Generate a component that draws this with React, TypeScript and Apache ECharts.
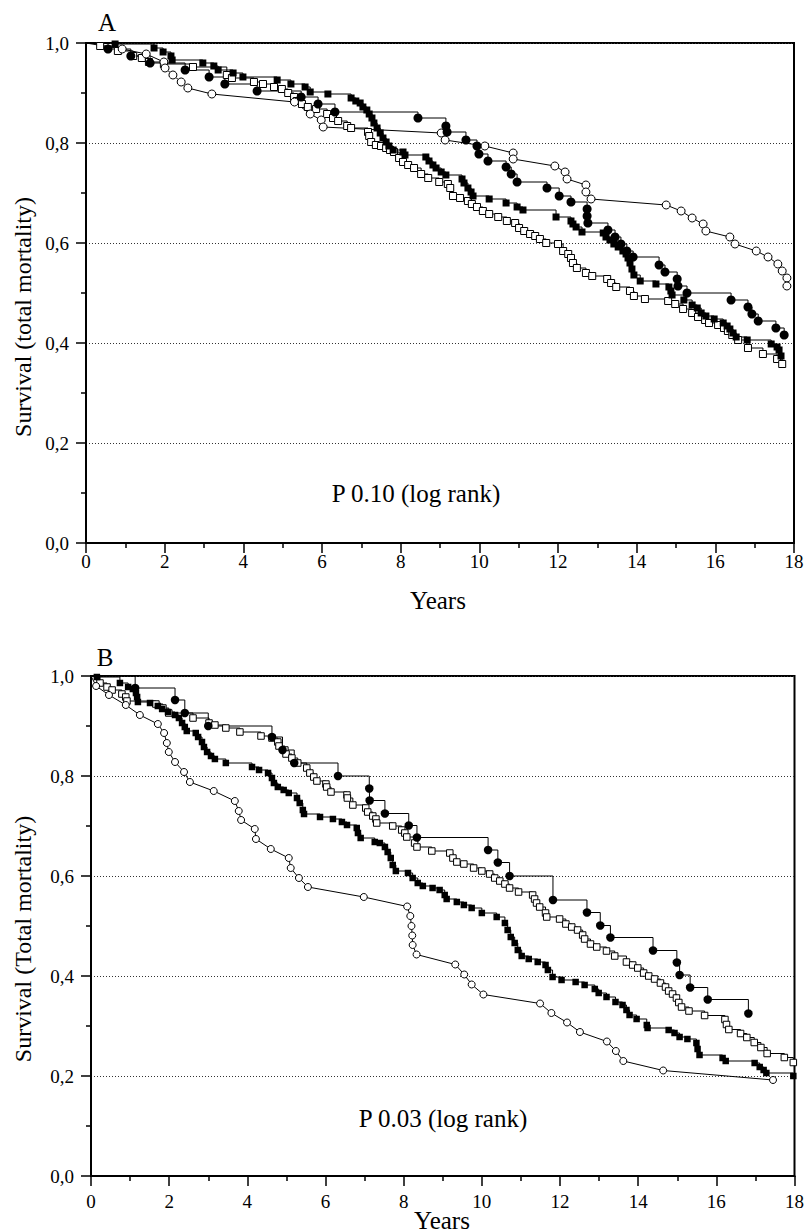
import React, { useEffect, useRef } from "react";
import * as echarts from "echarts";

// ---------- Panel A data: [years, survival] ----------
const A_filledSquare: number[][] = [
  [0, 1], [0.74, 0.998], [1.73, 0.99], [1.96, 0.982], [2.16, 0.974], [2.19, 0.966], [2.97, 0.96], [3.25, 0.954],
  [3.36, 0.946], [3.74, 0.94], [3.99, 0.932], [4.86, 0.926], [5.21, 0.918], [5.57, 0.912], [5.7, 0.902], [6.15, 0.898],
  [6.74, 0.89], [6.86, 0.884], [6.97, 0.88], [7.04, 0.872], [7.14, 0.866], [7.2, 0.858], [7.27, 0.85], [7.32, 0.84],
  [7.4, 0.83], [7.48, 0.82], [7.55, 0.81], [7.63, 0.802], [7.7, 0.794], [7.81, 0.786], [8.06, 0.782], [8.11, 0.776],
  [8.64, 0.772], [8.72, 0.764], [8.82, 0.756], [8.9, 0.75], [9.03, 0.742], [9.15, 0.736], [9.56, 0.728], [9.61, 0.72],
  [9.71, 0.71], [9.79, 0.702], [9.84, 0.694], [10.25, 0.688], [10.68, 0.68], [10.96, 0.672], [11.11, 0.666], [11.95, 0.652],
  [12.33, 0.644], [12.38, 0.638], [12.46, 0.632], [12.61, 0.622], [13.15, 0.62], [13.22, 0.612], [13.32, 0.606], [13.42, 0.598],
  [13.53, 0.592], [13.65, 0.584], [13.73, 0.578], [13.78, 0.57], [13.83, 0.56], [13.88, 0.548], [13.93, 0.536], [14.09, 0.524],
  [14.49, 0.518], [14.82, 0.512], [14.87, 0.504], [14.9, 0.496], [15.2, 0.486], [15.41, 0.476], [15.54, 0.47], [15.64, 0.46],
  [15.76, 0.454], [15.97, 0.448], [16.2, 0.44], [16.3, 0.434], [16.37, 0.428], [16.45, 0.42], [16.53, 0.412], [16.81, 0.406],
  [17.42, 0.398], [17.57, 0.392], [17.62, 0.386], [17.67, 0.374],
];
const A_openSquare: number[][] = [
  [0, 1], [0.36, 0.994], [0.81, 0.984], [1.2, 0.974], [1.42, 0.97], [1.6, 0.962], [1.98, 0.958], [2.72, 0.952],
  [3.58, 0.936], [3.71, 0.93], [4.27, 0.922], [4.5, 0.918], [4.78, 0.912], [4.98, 0.908], [5.14, 0.9], [5.29, 0.892],
  [5.36, 0.884], [5.49, 0.878], [5.64, 0.872], [5.85, 0.868], [6.13, 0.858], [6.28, 0.85], [6.41, 0.844], [6.64, 0.834],
  [6.74, 0.83], [7.17, 0.822], [7.2, 0.814], [7.25, 0.802], [7.37, 0.796], [7.5, 0.794], [7.63, 0.79], [7.73, 0.786],
  [7.83, 0.782], [7.96, 0.77], [8.06, 0.762], [8.19, 0.756], [8.34, 0.75], [8.52, 0.738], [8.7, 0.73], [8.98, 0.722],
  [9.2, 0.718], [9.26, 0.71], [9.33, 0.694], [9.51, 0.69], [9.71, 0.684], [9.81, 0.678], [9.94, 0.672], [10.09, 0.664],
  [10.25, 0.658], [10.48, 0.652], [10.7, 0.644], [10.91, 0.64], [11.01, 0.63], [11.14, 0.624], [11.29, 0.618], [11.42, 0.614],
  [11.54, 0.608], [11.7, 0.6], [12.0, 0.598], [12.13, 0.584], [12.26, 0.578], [12.33, 0.57], [12.38, 0.56], [12.48, 0.55],
  [12.71, 0.54], [12.87, 0.534], [13.25, 0.528], [13.35, 0.52], [13.48, 0.512], [13.83, 0.504], [13.93, 0.494], [14.21, 0.488],
  [14.8, 0.484], [14.98, 0.478], [15.18, 0.468], [15.41, 0.46], [15.56, 0.452], [15.74, 0.446], [15.84, 0.44], [16.07, 0.436],
  [16.22, 0.43], [16.32, 0.424], [16.43, 0.416], [16.58, 0.406], [16.83, 0.39], [17.21, 0.378], [17.57, 0.368], [17.7, 0.358],
];
const A_filledCircle: number[][] = [
  [0, 1], [0.56, 0.988], [1.14, 0.974], [1.63, 0.96], [2.52, 0.946], [3.13, 0.932], [3.53, 0.918], [4.35, 0.904],
  [5.47, 0.892], [5.9, 0.878], [6.33, 0.862], [8.44, 0.85], [9.15, 0.834], [9.18, 0.822], [9.66, 0.806], [9.94, 0.794],
  [9.99, 0.778], [10.22, 0.764], [10.68, 0.752], [10.81, 0.738], [10.96, 0.722], [11.72, 0.71], [12.03, 0.694], [12.33, 0.682],
  [12.74, 0.668], [12.74, 0.654], [12.76, 0.64], [13.27, 0.626], [13.45, 0.612], [13.6, 0.598], [13.75, 0.584], [13.91, 0.572],
  [14.57, 0.556], [14.72, 0.542], [15.03, 0.528], [15.05, 0.514], [15.28, 0.5], [16.4, 0.486], [16.83, 0.472], [16.93, 0.458],
  [17.09, 0.444], [17.54, 0.43], [17.75, 0.416],
];
const A_openCircle: number[][] = [
  [0, 1], [0.92, 0.988], [1.53, 0.978], [1.98, 0.962], [2.01, 0.95], [2.21, 0.936], [2.42, 0.922], [2.59, 0.91],
  [3.2, 0.898], [5.3, 0.882], [5.7, 0.858], [5.98, 0.846], [6.03, 0.832], [9.03, 0.82], [9.13, 0.806], [10.14, 0.794],
  [10.86, 0.78], [10.86, 0.768], [11.92, 0.754], [12.18, 0.742], [12.23, 0.728], [12.71, 0.716], [12.71, 0.702], [12.84, 0.688],
  [14.75, 0.676], [15.13, 0.664], [15.41, 0.65], [15.69, 0.638], [15.76, 0.624], [16.37, 0.612], [16.5, 0.598], [17.04, 0.584],
  [17.34, 0.572], [17.59, 0.558], [17.7, 0.544], [17.82, 0.53], [17.82, 0.514],
];

// ---------- Panel B data: [years, survival] ----------
const B_filledSquare: number[][] = [
  [0, 1], [0.15, 0.998], [0.74, 0.986], [0.95, 0.978], [1.07, 0.974], [1.15, 0.966], [1.18, 0.958], [1.2, 0.948],
  [1.51, 0.946], [1.71, 0.94], [1.82, 0.934], [1.97, 0.928], [2.15, 0.922], [2.25, 0.916], [2.33, 0.906], [2.4, 0.898],
  [2.45, 0.89], [2.68, 0.886], [2.74, 0.878], [2.84, 0.868], [2.89, 0.858], [2.97, 0.848], [3.07, 0.84], [3.17, 0.834],
  [3.45, 0.826], [4.12, 0.818], [4.3, 0.812], [4.53, 0.806], [4.63, 0.796], [4.68, 0.786], [4.78, 0.778], [4.93, 0.772],
  [5.06, 0.766], [5.27, 0.756], [5.34, 0.746], [5.42, 0.732], [5.45, 0.724], [5.86, 0.718], [6.19, 0.714], [6.42, 0.708],
  [6.55, 0.702], [6.8, 0.696], [6.83, 0.686], [6.9, 0.676], [7.26, 0.668], [7.39, 0.666], [7.52, 0.658], [7.59, 0.648],
  [7.67, 0.636], [7.72, 0.622], [7.8, 0.61], [8.11, 0.606], [8.23, 0.596], [8.36, 0.586], [8.49, 0.58], [8.74, 0.576],
  [8.92, 0.572], [9.05, 0.562], [9.1, 0.554], [9.36, 0.548], [9.54, 0.542], [9.74, 0.536], [10.0, 0.526], [10.38, 0.518],
  [10.59, 0.506], [10.66, 0.492], [10.74, 0.478], [10.84, 0.466], [10.92, 0.452], [11.02, 0.44], [11.2, 0.434], [11.43, 0.428],
  [11.63, 0.422], [11.69, 0.412], [11.81, 0.398], [12.04, 0.392], [12.4, 0.388], [12.63, 0.382], [12.89, 0.374], [12.99, 0.366],
  [13.19, 0.358], [13.42, 0.348], [13.6, 0.342], [13.7, 0.332], [13.78, 0.322], [13.96, 0.314], [14.22, 0.302], [14.24, 0.296],
  [14.78, 0.292], [14.93, 0.286], [15.06, 0.278], [15.26, 0.274], [15.49, 0.266], [15.52, 0.254], [15.57, 0.242], [16.16, 0.236],
  [16.24, 0.23], [16.98, 0.226], [17.11, 0.218], [17.21, 0.212], [17.28, 0.206], [17.97, 0.2],
];
const B_openSquare: number[][] = [
  [0, 1], [0.23, 0.986], [0.41, 0.978], [0.54, 0.972], [0.79, 0.964], [0.89, 0.958], [0.92, 0.95], [1.66, 0.944],
  [1.84, 0.936], [1.99, 0.926], [2.61, 0.916], [3.02, 0.906], [3.17, 0.902], [3.45, 0.896], [3.81, 0.888], [4.35, 0.88],
  [4.63, 0.876], [4.78, 0.868], [4.81, 0.86], [4.96, 0.852], [4.99, 0.844], [5.14, 0.836], [5.29, 0.826], [5.52, 0.816],
  [5.6, 0.806], [5.7, 0.798], [5.78, 0.79], [6.01, 0.784], [6.03, 0.778], [6.14, 0.768], [6.55, 0.762], [6.56, 0.756],
  [6.7, 0.742], [7.03, 0.736], [7.08, 0.728], [7.21, 0.72], [7.29, 0.714], [7.31, 0.706], [7.72, 0.7], [7.95, 0.692],
  [8.03, 0.686], [8.08, 0.678], [8.28, 0.666], [8.34, 0.658], [8.72, 0.65], [9.18, 0.646], [9.26, 0.636], [9.36, 0.628],
  [9.54, 0.624], [9.79, 0.616], [10.0, 0.61], [10.2, 0.604], [10.33, 0.596], [10.46, 0.59], [10.59, 0.584], [10.71, 0.576],
  [10.94, 0.568], [11.3, 0.562], [11.35, 0.554], [11.4, 0.546], [11.48, 0.538], [11.63, 0.526], [11.66, 0.518], [11.99, 0.514],
  [12.15, 0.504], [12.3, 0.498], [12.45, 0.492], [12.58, 0.482], [12.63, 0.474], [12.78, 0.464], [12.94, 0.458], [13.19, 0.45],
  [13.4, 0.44], [13.7, 0.428], [13.86, 0.422], [13.99, 0.416], [14.14, 0.406], [14.27, 0.4], [14.42, 0.394], [14.57, 0.386],
  [14.7, 0.378], [14.78, 0.37], [14.88, 0.364], [14.98, 0.356], [15.04, 0.347], [15.11, 0.338], [15.3, 0.33], [15.7, 0.321],
  [16.22, 0.313], [16.26, 0.303], [16.32, 0.293], [16.62, 0.285], [16.78, 0.277], [16.97, 0.267], [17.14, 0.257], [17.3, 0.245],
  [17.74, 0.237], [17.97, 0.227],
];
const B_filledCircle: number[][] = [
  [0, 1], [1.13, 0.976], [2.15, 0.952], [2.4, 0.926], [3.0, 0.9], [4.63, 0.878], [4.9, 0.852], [5.2, 0.826],
  [6.32, 0.8], [7.12, 0.775], [7.13, 0.751], [7.52, 0.725], [8.13, 0.701], [8.34, 0.677], [10.16, 0.652], [10.41, 0.627],
  [10.71, 0.6], [11.82, 0.552], [12.69, 0.527], [13.03, 0.501], [13.29, 0.477], [14.38, 0.451], [14.99, 0.427], [15.06, 0.402],
  [15.33, 0.377], [15.78, 0.353], [16.82, 0.325],
];
const B_openCircle: number[][] = [
  [0, 1], [0.13, 0.98], [0.46, 0.962], [0.89, 0.942], [1.25, 0.922], [1.71, 0.904], [1.87, 0.886], [1.94, 0.866],
  [1.99, 0.848], [2.15, 0.828], [2.38, 0.808], [2.53, 0.788], [3.14, 0.77], [3.68, 0.75], [3.78, 0.73], [3.84, 0.712],
  [4.19, 0.694], [4.22, 0.674], [4.6, 0.654], [5.06, 0.636], [5.11, 0.616], [5.32, 0.596], [5.55, 0.578], [6.98, 0.558],
  [8.09, 0.539], [8.17, 0.52], [8.2, 0.5], [8.22, 0.481], [8.23, 0.462], [8.33, 0.443], [9.32, 0.423], [9.55, 0.403],
  [9.74, 0.383], [10.04, 0.363], [11.49, 0.345], [11.78, 0.326], [12.18, 0.307], [12.51, 0.288], [13.2, 0.269], [13.43, 0.25],
  [13.62, 0.23], [14.64, 0.211], [17.45, 0.192],
];

const X_TICKS_MAX = 18;
const Y_AXIS_TITLE_A = "Survival (total mortality)";
const Y_AXIS_TITLE_B = "Survival (Total mortality)";
const X_AXIS_TITLE = "Years";
const P_TEXT_A = "P 0.10 (log rank)";
const P_TEXT_B = "P 0.03 (log rank)";

const FONT = "Liberation Serif";

type Kind = "filledSquare" | "openSquare" | "filledCircle" | "openCircle";

function makeSeries(data: number[][], kind: Kind, idx: number, big: boolean) {
  const isCircle = kind === "filledCircle" || kind === "openCircle";
  const filled = kind === "filledSquare" || kind === "filledCircle";
  const size = isCircle ? (big ? (filled ? 9 : 8) : filled ? 8.5 : 7) : big ? 7 : 6.5;
  return {
    type: "line",
    xAxisIndex: idx,
    yAxisIndex: idx,
    step: kind === "openCircle" ? false : "end",
    showAllSymbol: true,
    symbol: isCircle ? "circle" : "rect",
    symbolSize: size,
    itemStyle: {
      color: filled ? "#000" : "#fff",
      borderColor: "#000",
      borderWidth: filled ? 0 : 1,
    },
    lineStyle: { color: "#000", width: 1 },
    emphasis: { disabled: true },
    data: data.map((p, i) => (i === 0 ? { value: p, symbol: "none" } : { value: p })),
    z: 3,
  };
}

function xAxis(idx: number, margin: number) {
  return {
    gridIndex: idx,
    type: "value",
    min: 0,
    max: X_TICKS_MAX,
    interval: 2,
    axisLine: { show: true, onZero: false, lineStyle: { color: "#000", width: 2 } },
    axisTick: { show: true, length: 10, lineStyle: { color: "#000", width: 1.5 } },
    minorTick: { show: true, splitNumber: 2, length: 5, lineStyle: { color: "#000", width: 1.5 } },
    axisLabel: { show: true, color: "#000", fontFamily: FONT, fontSize: 19, margin },
    splitLine: { show: false },
  };
}

function yAxis(idx: number) {
  return {
    gridIndex: idx,
    type: "value",
    min: 0,
    max: 1,
    interval: 0.2,
    axisLine: { show: true, onZero: false, lineStyle: { color: "#000", width: 2 } },
    axisTick: { show: true, length: 10, lineStyle: { color: "#000", width: 1.5 } },
    minorTick: { show: true, splitNumber: 2, length: 5, lineStyle: { color: "#000", width: 1.5 } },
    axisLabel: {
      show: true,
      color: "#000",
      fontFamily: FONT,
      fontSize: 19,
      margin: 17,
      formatter: (v: number) => v.toFixed(1).replace(".", ","),
    },
    splitLine: { show: true, lineStyle: { color: "#333", width: 1, type: [1, 2] } },
  };
}

function txt(text: string, x: number, y: number, size: number, rot = 0) {
  return {
    type: "text",
    x,
    y,
    rotation: rot,
    silent: true,
    style: {
      text,
      fill: "#000",
      fontFamily: FONT,
      fontSize: size,
      align: "center",
      verticalAlign: "middle",
    },
  };
}

export default function App() {
  const ref = useRef<HTMLDivElement>(null);
  useEffect(() => {
    if (!ref.current) return;
    const chart = echarts.init(ref.current, undefined, { renderer: "svg" });
    const option: any = {
      animation: false,
      backgroundColor: "#fff",
      textStyle: { fontFamily: FONT, fontSize: 19, color: "#000" },
      grid: [
        { left: 86, top: 43, width: 708, height: 500, show: true, borderColor: "#000", borderWidth: 2 },
        { left: 91, top: 676, width: 705, height: 500, show: true, borderColor: "#000", borderWidth: 2 },
      ],
      xAxis: [xAxis(0, 9), xAxis(1, 16)],
      yAxis: [yAxis(0), yAxis(1)],
      series: [
        makeSeries(A_openSquare, "openSquare", 0, true),
        makeSeries(A_filledSquare, "filledSquare", 0, true),
        makeSeries(A_openCircle, "openCircle", 0, true),
        makeSeries(A_filledCircle, "filledCircle", 0, true),
        makeSeries(B_openSquare, "openSquare", 1, false),
        makeSeries(B_filledSquare, "filledSquare", 1, false),
        makeSeries(B_openCircle, "openCircle", 1, false),
        makeSeries(B_filledCircle, "filledCircle", 1, false),
      ],
      graphic: [
        txt("A", 107, 22, 25),
        txt("B", 105, 657, 25),
        txt(Y_AXIS_TITLE_A, 23, 317, 24, Math.PI / 2),
        txt(Y_AXIS_TITLE_B, 23, 939, 24, Math.PI / 2),
        txt(X_AXIS_TITLE, 438, 600, 25),
        txt(X_AXIS_TITLE, 442, 1220, 25),
        txt(P_TEXT_A, 416, 493, 25),
        txt(P_TEXT_B, 443, 1118, 25),
      ],
    };
    chart.setOption(option);
    return () => chart.dispose();
  }, []);
  return (
    <div
      ref={ref}
      style={{ position: "absolute", left: 0, top: 0, width: 807, height: 1232, background: "#fff" }}
    />
  );
}
